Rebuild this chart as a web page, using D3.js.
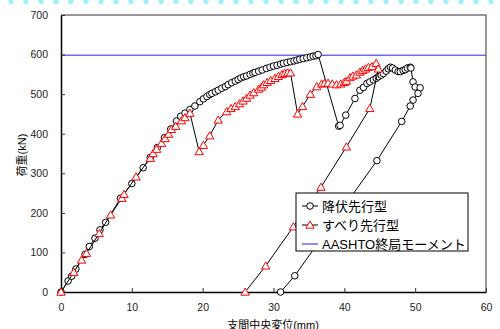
<!DOCTYPE html>
<html>
<head>
<meta charset="utf-8">
<script src="https://cdn.jsdelivr.net/npm/d3@7"></script>
<style>
  body { margin: 0; background: #fff; }
  svg { display: block; font-family: "Liberation Sans", Arial, "Noto Sans CJK JP", sans-serif; }
</style>
</head>
<body>
<div id="chart"></div>
<script>
// 降伏先行型 (circles): displacement (mm), load (kN)
var yieldDisp = [0, 1.0, 1.5, 2.1, 3.4, 4.0, 4.8, 5.5, 6.3, 8.4, 10.0, 11.6, 12.6, 13.6, 14.6, 15.5, 16.3, 16.9, 17.5, 18.2,
    18.9, 19.6, 20.1, 20.6, 21.0, 21.3, 21.8, 22.2, 22.7, 23.2, 23.6, 24.1, 24.6, 25.0, 25.4, 25.8, 26.2, 26.7, 27.1, 27.4,
    27.9, 28.4, 29.0, 29.5, 30.0, 30.5, 31.0, 31.4, 31.9, 32.4, 32.9, 33.3, 33.7, 34.2, 34.7, 35.2, 35.6, 36.0, 36.3,
    39.2, 39.4, 40.2, 41.5, 42.2, 42.7, 43.2, 43.6, 44.1, 44.5, 44.8, 45.2, 45.5, 45.9, 46.2, 46.5, 46.8, 47.2, 47.6, 47.9,
    48.3, 48.6, 48.9, 49.3, 49.4, 49.7, 50.0, 50.7, 50.4, 49.7, 49.3, 48.1, 44.6, 33.0, 31.0];
var yieldLoad = [0, 28, 40, 58, 95, 115, 136, 157, 176, 237, 274, 314, 340, 365, 390, 412, 432, 444, 452, 461,
    470, 481, 488, 494, 499, 502, 506, 510, 515, 519, 524, 529, 533, 537, 541, 544, 546, 550, 553, 555,
    558, 561, 565, 568, 571, 573, 576, 578, 580, 582, 584, 586, 588, 590, 592, 594, 596, 597, 600,
    419, 421, 447, 489, 510, 517, 527, 531, 536, 540, 544, 548, 552, 558, 564, 568, 566, 561, 557, 557,
    560, 562, 566, 568, 566, 531, 518, 516, 502, 485, 470, 431, 332, 41, 0];

// すべり先行型 (triangles)
var slipDisp = [0, 1.8, 2.9, 3.6, 5.4, 7.0, 8.6, 8.9, 10.6, 12.6, 13.0, 13.5, 14.2, 14.7, 15.2, 15.6, 16.2, 17.0, 17.5, 18.2,
    19.5, 20.1, 21.0, 22.2, 23.4, 24.0, 24.6, 25.2, 25.7, 26.2, 26.7, 27.2, 27.9, 28.3, 28.6, 29.1, 29.6, 30.2, 30.7, 31.2,
    31.6, 32.0, 32.4, 33.4, 34.1, 35.2, 36.1, 36.8, 37.2, 37.7, 38.3, 38.9, 39.5, 40.0, 40.3, 40.8, 41.2, 41.7, 42.2, 42.6,
    43.0, 43.4, 43.9, 44.5, 44.8, 43.6, 40.3, 36.7, 32.8, 28.9, 26.0];
var slipLoad = [0, 50, 81, 98, 148, 195, 237, 247, 291, 338, 350, 361, 376, 388, 399, 411, 419, 433, 441, 452,
    355, 371, 395, 435, 456, 464, 469, 476, 483, 490, 498, 504, 513, 518, 524, 530, 535, 540, 545, 550,
    553, 554, 554, 450, 469, 500, 519, 526, 527, 528, 526, 524, 526, 530, 533, 542, 546, 549, 556, 560,
    564, 568, 570, 578, 564, 464, 367, 265, 165, 66, 0];

var aashtoLoad = 598;

var xTicks = [0, 10, 20, 30, 40, 50, 60];
var yTicks = [0, 100, 200, 300, 400, 500, 600, 700];
var legendLabels = ["降伏先行型", "すべり先行型", "AASHTO終局モーメント"];

var W = 500, H = 329;
var svg = d3.select("#chart").append("svg").attr("width", W).attr("height", H);

// light cyan pattern along the top edge
svg.append("g").selectAll("circle")
    .data(d3.range(0, 33))
    .enter().append("circle")
    .attr("cx", function (i) { return 11 + i * 15; })
    .attr("cy", 1.5)
    .attr("r", 2.6)
    .attr("fill", "#9ef3fb");

var x = d3.scaleLinear().domain([0, 60]).range([61, 486]);
var y = d3.scaleLinear().domain([0, 700]).range([292, 15]);

// frame: top and right in grey
svg.append("path")
    .attr("d", "M" + x(0) + "," + y(700) + "H" + x(60) + "V" + y(0))
    .attr("fill", "none").attr("stroke", "#777").attr("stroke-width", 1.5);

// AASHTO line
svg.append("line")
    .attr("x1", x(0)).attr("x2", x(60))
    .attr("y1", y(aashtoLoad)).attr("y2", y(aashtoLoad))
    .attr("stroke", "#6b6bf0").attr("stroke-width", 1.5);

// axes with inward ticks
var xAxis = svg.append("g")
    .attr("transform", "translate(0," + y(0) + ")")
    .call(d3.axisBottom(x).tickValues(xTicks).tickSizeInner(-4).tickSizeOuter(0).tickPadding(12));
var yAxis = svg.append("g")
    .attr("transform", "translate(" + x(0) + ",0)")
    .call(d3.axisLeft(y).tickValues(yTicks).tickSizeInner(-4).tickSizeOuter(0).tickPadding(13));
[xAxis, yAxis].forEach(function (g) {
    g.select(".domain").attr("stroke", "#000").attr("stroke-width", 1.5);
    g.selectAll(".tick line").attr("stroke", "#333");
    g.selectAll(".tick text").attr("font-size", "10.5px").attr("fill", "#222")
        .attr("font-family", "'Liberation Sans', Arial, sans-serif");
});

var yieldPts = yieldDisp.map(function (d, i) { return [d, yieldLoad[i]]; });
var slipPts = slipDisp.map(function (d, i) { return [d, slipLoad[i]]; });

var line = d3.line()
    .x(function (d) { return x(d[0]); })
    .y(function (d) { return y(d[1]); });

svg.append("path").datum(yieldPts)
    .attr("d", line).attr("fill", "none").attr("stroke", "#000").attr("stroke-width", 1);
svg.append("g").selectAll("circle")
    .data(yieldPts).enter().append("circle")
    .attr("cx", function (d) { return x(d[0]); })
    .attr("cy", function (d) { return y(d[1]); })
    .attr("r", 3.3)
    .attr("fill", "#fff").attr("stroke", "#000").attr("stroke-width", 1);

var tri = d3.symbol().type(d3.symbolTriangle).size(30);
svg.append("path").datum(slipPts)
    .attr("d", line).attr("fill", "none").attr("stroke", "#000").attr("stroke-width", 1);
svg.append("g").selectAll("path")
    .data(slipPts).enter().append("path")
    .attr("d", tri)
    .attr("transform", function (d) { return "translate(" + x(d[0]) + "," + (y(d[1]) + 0.8) + ")"; })
    .attr("fill", "#fff").attr("stroke", "#f00").attr("stroke-width", 1);

// axis titles
svg.append("text")
    .attr("x", 273).attr("y", 329)
    .attr("text-anchor", "middle")
    .attr("font-size", "11px")
    .text("支間中央変位(mm)");
svg.append("text")
    .attr("transform", "translate(26,155) rotate(-90)")
    .attr("text-anchor", "middle")
    .attr("font-size", "11px")
    .text("荷重(kN)");

// legend
var lg = svg.append("g").attr("transform", "translate(296,193)");
lg.append("rect").attr("width", 172).attr("height", 58)
    .attr("fill", "#fff").attr("stroke", "#000").attr("stroke-width", 1);
legendLabels.forEach(function (label, i) {
    var cy = 13 + i * 19;
    var row = lg.append("g");
    row.append("line").attr("x1", 6).attr("x2", 22).attr("y1", cy).attr("y2", cy)
        .attr("stroke", i === 2 ? "#6b6bf0" : "#000").attr("stroke-width", i === 2 ? 1.5 : 1);
    if (i === 0) {
        row.append("circle").attr("cx", 14).attr("cy", cy).attr("r", 3.3)
            .attr("fill", "#fff").attr("stroke", "#000");
    } else if (i === 1) {
        row.append("path").attr("d", tri).attr("transform", "translate(14," + (cy + 0.8) + ")")
            .attr("fill", "#fff").attr("stroke", "#f00");
    }
    row.append("text").attr("x", 26).attr("y", cy + 4.5)
        .attr("font-size", "13px")
        .text(label);
});
</script>
</body>
</html>
